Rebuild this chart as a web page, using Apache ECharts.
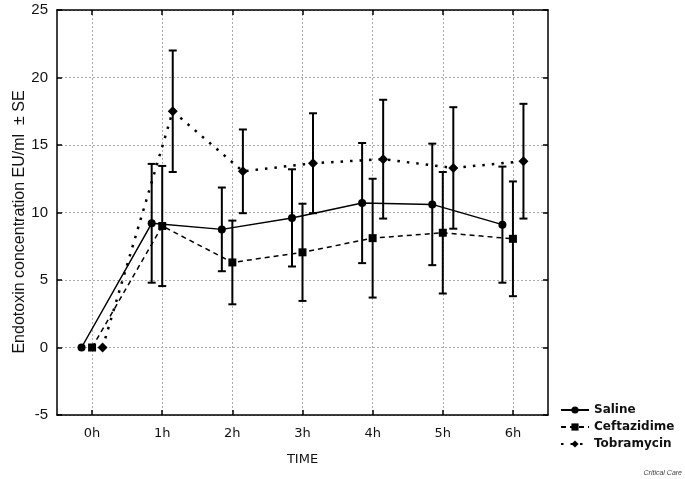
<!DOCTYPE html>
<html>
<head>
<meta charset="utf-8">
<script src="https://cdn.jsdelivr.net/npm/echarts@6/dist/echarts.min.js"></script>
<style>
  html, body { margin: 0; padding: 0; background: #fff; }
  #chart { width: 685px; height: 479px; }
</style>
</head>
<body>
<div id="chart"></div>
<script>
  // time points
  var categories = ['0h', '1h', '2h', '3h', '4h', '5h', '6h'];
  var yTicks = [-5, 0, 5, 10, 15, 20, 25];

  // mean endotoxin (EU/ml) and standard error
  var salineMean = [0, 9.2, 8.75, 9.6, 10.7, 10.6, 9.1];
  var salineSE = [0, 4.4, 3.1, 3.6, 4.45, 4.5, 4.3];
  var ceftazidimeMean = [0, 9.0, 6.3, 7.05, 8.1, 8.5, 8.05];
  var ceftazidimeSE = [0, 4.45, 3.1, 3.6, 4.4, 4.5, 4.25];
  var tobramycinMean = [0, 17.5, 13.05, 13.65, 13.95, 13.3, 13.8];
  var tobramycinSE = [0, 4.5, 3.1, 3.7, 4.4, 4.5, 4.25];

  var groups = [
    { name: 'Saline', mean: salineMean, se: salineSE, off: -0.15, symbol: 'circle', size: 8, dash: 'solid', width: 1.5 },
    { name: 'Ceftazidime', mean: ceftazidimeMean, se: ceftazidimeSE, off: 0, symbol: 'rect', size: 8, dash: [5, 4], width: 1.5 },
    { name: 'Tobramycin', mean: tobramycinMean, se: tobramycinSE, off: 0.15, symbol: 'diamond', size: 10, dash: [2.5, 7], width: 2.5 }
  ];

  function errorBarItem(params, api) {
    var x = api.value(0);
    var top = api.coord([x, api.value(2)]);
    var bot = api.coord([x, api.value(1)]);
    var hw = 4;
    var st = { stroke: '#000', lineWidth: 2 };
    return {
      type: 'group',
      children: [
        { type: 'line', shape: { x1: top[0], y1: top[1], x2: bot[0], y2: bot[1] }, style: st },
        { type: 'line', shape: { x1: top[0] - hw, y1: top[1], x2: top[0] + hw, y2: top[1] }, style: st },
        { type: 'line', shape: { x1: bot[0] - hw, y1: bot[1], x2: bot[0] + hw, y2: bot[1] }, style: st }
      ]
    };
  }

  var series = [];
  groups.forEach(function (g) {
    var errData = [];
    g.mean.forEach(function (m, i) {
      if (g.se[i] > 0) errData.push([i + g.off, m - g.se[i], m + g.se[i]]);
    });
    series.push({
      type: 'custom',
      name: g.name + ' SE',
      xAxisIndex: 2,
      yAxisIndex: 0,
      renderItem: errorBarItem,
      encode: { x: 0, y: [1, 2] },
      data: errData,
      z: 2,
      silent: true
    });
  });
  groups.forEach(function (g) {
    series.push({
      type: 'line',
      name: g.name,
      xAxisIndex: 2,
      yAxisIndex: 0,
      data: g.mean.map(function (m, i) { return [i + g.off, m]; }),
      symbol: g.symbol,
      symbolSize: g.size,
      showSymbol: true,
      itemStyle: { color: '#000' },
      lineStyle: { color: '#000', width: g.width, type: g.dash },
      z: 3
    });
  });

  var axisLine = { show: true, onZero: false, lineStyle: { color: '#000', width: 1.5 } };
  var inTick = { show: true, inside: true, length: 5, lineStyle: { color: '#000', width: 1.5 } };
  var gridLine = { show: true, lineStyle: { color: '#aaa', width: 1, type: [2, 2] } };
  var labelFont = { fontFamily: 'DejaVu Sans', fontSize: 13, color: '#111' };

  var chart = echarts.init(document.getElementById('chart'));
  chart.setOption({
    animation: false,
    backgroundColor: '#fff',
    grid: { left: 57, right: 137, top: 10, bottom: 64, containLabel: false },
    legend: {
      orient: 'vertical',
      left: 555,
      top: 399,
      itemWidth: 28,
      itemHeight: 9,
      itemGap: 5,
      data: groups.map(function (g) { return g.name; }),
      textStyle: { fontFamily: 'DejaVu Sans', fontSize: 12, fontWeight: 'bold', color: '#111' }
    },
    xAxis: [
      {
        type: 'category',
        data: categories,
        position: 'bottom',
        boundaryGap: true,
        axisLine: axisLine,
        axisTick: Object.assign({ alignWithLabel: true }, inTick),
        splitLine: Object.assign({ alignWithLabel: true }, gridLine),
        axisLabel: Object.assign({ margin: 12 }, labelFont),
        name: 'TIME',
        nameLocation: 'middle',
        nameGap: 38,
        nameTextStyle: labelFont
      },
      {
        type: 'category',
        data: categories,
        position: 'top',
        boundaryGap: true,
        axisLine: axisLine,
        axisTick: Object.assign({ alignWithLabel: true }, inTick),
        splitLine: { show: false },
        axisLabel: { show: false }
      },
      { type: 'value', min: -0.5, max: 6.5, show: false }
    ],
    yAxis: [
      {
        type: 'value',
        min: yTicks[0],
        max: yTicks[yTicks.length - 1],
        interval: yTicks[1] - yTicks[0],
        position: 'left',
        axisLine: axisLine,
        axisTick: inTick,
        splitLine: gridLine,
        axisLabel: { margin: 9, fontFamily: 'Liberation Sans', fontSize: 15, color: '#111' }
      },
      {
        type: 'value',
        min: yTicks[0],
        max: yTicks[yTicks.length - 1],
        interval: yTicks[1] - yTicks[0],
        position: 'right',
        axisLine: axisLine,
        axisTick: inTick,
        splitLine: { show: false },
        axisLabel: { show: false }
      }
    ],
    graphic: [
      {
        type: 'text',
        x: 20,
        y: 222,
        rotation: Math.PI / 2,
        style: {
          text: 'Endotoxin concentration EU/ml  \u00B1 SE',
          font: '16px "Liberation Sans"',
          fill: '#111',
          align: 'center',
          verticalAlign: 'middle'
        }
      },
      {
        type: 'text',
        right: 3,
        top: 470,
        style: {
          text: 'Critical Care',
          font: 'italic 7px "Liberation Sans"',
          fill: '#444'
        }
      }
    ],
    series: series
  });
</script>
</body>
</html>
